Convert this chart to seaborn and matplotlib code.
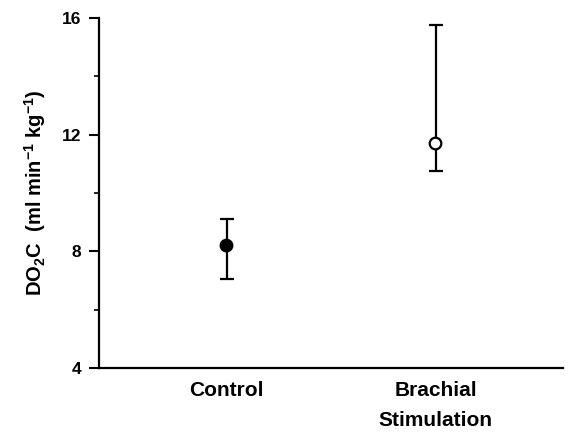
import matplotlib
matplotlib.use("Agg")
import matplotlib.pyplot as plt
import seaborn as sns
import pandas as pd
from matplotlib.ticker import MultipleLocator

categories = ["Control", "Brachial\nStimulation"]
means = [8.2, 11.7]
upper = [9.1, 15.75]
lower = [7.05, 10.75]
fills = ["black", "white"]
yticks = [4, 8, 12, 16]

sns.set_theme(style="ticks")
plt.rcParams['font.family'] = ['Liberation Sans', 'DejaVu Sans']
plt.rcParams['mathtext.fontset'] = 'custom'
plt.rcParams['mathtext.rm'] = 'Liberation Sans:bold'
plt.rcParams['mathtext.bf'] = 'Liberation Sans:bold'
plt.rcParams['mathtext.it'] = 'Liberation Sans:bold'
plt.rcParams['mathtext.default'] = 'bf'
plt.rcParams['text.color'] = 'black'
plt.rcParams['axes.labelcolor'] = 'black'
plt.rcParams['xtick.color'] = 'black'
plt.rcParams['ytick.color'] = 'black'

df = pd.DataFrame({"x": list(range(len(categories))), "mean": means,
                   "cat": categories, "fill": fills})

fig = plt.figure(figsize=(5.71, 4.32), dpi=100)
ax = fig.add_axes([0.1734, 0.148, 0.8126, 0.810])

yerr = [[m - l for m, l in zip(means, lower)], [u - m for m, u in zip(means, upper)]]
ax.errorbar(df["x"], df["mean"], yerr=yerr, fmt="none", ecolor="black",
            elinewidth=1.6, capsize=5, capthick=1.6, zorder=2)
sns.scatterplot(data=df, x="x", y="mean", hue="cat", palette=dict(zip(categories, fills)),
                edgecolor="black", linewidth=1.6, s=70, legend=False, ax=ax, zorder=3)

ax.set_xlim(-0.61, 1.61)
ax.set_ylim(4, 16)
ax.set_yticks(yticks)
ax.yaxis.set_minor_locator(MultipleLocator(2))
ax.set_xticks(df["x"])
ax.set_xticklabels(categories, fontsize=15, fontweight="bold", linespacing=1.75)
ax.set_yticklabels([str(v) for v in yticks], fontsize=12.5, fontweight="bold")
ax.tick_params(axis="x", length=0, pad=9)
ax.tick_params(axis="y", which="major", length=7, width=1.5, direction="out", pad=6)
ax.tick_params(axis="y", which="minor", length=3.5, width=1.2, direction="out")
ax.set_xlabel("")
ax.set_ylabel(r"DO$_2$C  (ml min$^{-1}$ kg$^{-1}$)", fontsize=14.5, fontweight="bold", labelpad=10)
sns.despine(ax=ax)
for s in ["left", "bottom"]:
    ax.spines[s].set_linewidth(1.6)
    ax.spines[s].set_color("black")

fig.savefig("out.png", dpi=100)
